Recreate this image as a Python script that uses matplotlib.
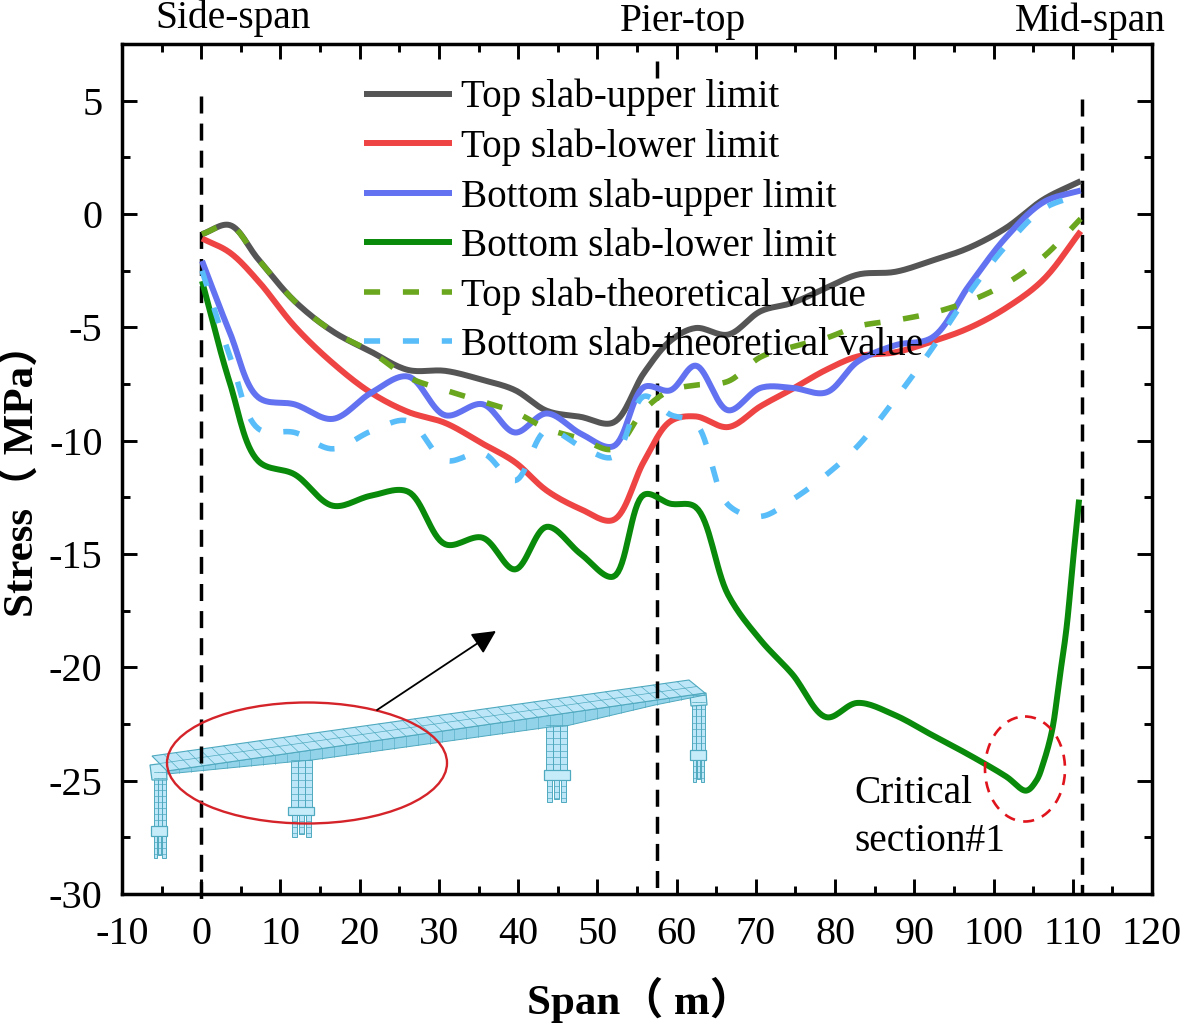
import numpy as np
import matplotlib
matplotlib.use("Agg")
import matplotlib.pyplot as plt
from matplotlib.patches import Ellipse, Polygon, FancyArrowPatch
from matplotlib.transforms import Affine2D

SERIF = "Liberation Serif"
plt.rcParams['font.family'] = [SERIF, 'Noto Sans CJK SC', 'DejaVu Sans']

# ---- data ----
span_common = [0.1, 3.6, 7.2, 11.8, 16.6, 21.4, 26.1, 30.8, 35.5, 39.6, 43.6, 47.9, 52.0, 55.9,
               59.2, 62.4, 66.5, 70.6, 74.6, 78.9, 82.9, 87.6, 92.3, 96.9, 101.6, 106.3, 111.0]
top_upper = [-0.89, -0.49, -2.0, -3.85, -5.18, -6.07, -6.88, -6.92, -7.32, -7.77, -8.68, -8.95, -9.2, -7.0,
             -5.6, -5.03, -5.32, -4.29, -3.92, -3.26, -2.67, -2.55, -2.05, -1.49, -0.61, 0.64, 1.45]
top_lower = [-1.08, -1.7, -2.96, -4.96, -6.58, -7.88, -8.73, -9.22, -10.13, -10.95, -12.2, -13.02, -13.5, -10.9,
             -9.15, -8.93, -9.4, -8.48, -7.72, -6.87, -6.28, -6.1, -5.62, -5.03, -4.14, -2.89, -0.76]
bottom_upper = [-2.07, -5.22, -8.09, -8.40, -9.04, -7.9, -7.17, -8.88, -8.39, -9.64, -8.8, -9.69, -10.25, -7.63,
                -7.78, -6.69, -8.66, -7.67, -7.67, -7.87, -6.5, -5.79, -5.44, -3.16, -1.02, 0.52, 1.04]
top_theory = [-0.89, -0.5, -2.0, -3.85, -5.18, -6.07, -7.2, -7.77, -8.28, -8.74, -9.47, -9.91, -10.37, -8.63,
              -7.78, -7.55, -7.38, -6.31, -5.86, -5.47, -4.95, -4.69, -4.36, -3.85, -3.07, -1.89, -0.21]
bottom_theory = [-2.5, -6.26, -9.47, -9.64, -10.36, -9.59, -9.13, -10.87, -10.55, -11.76, -9.54, -10.25, -10.72, -8.04,
                 -8.85, -9.22, -12.83, -13.34, -12.6, -11.5, -10.22, -8.16, -5.91, -3.51, -1.39, 0.23, 0.86]
span_bottom_lower = [0.1, 3.6, 7.2, 11.8, 16.6, 21.4, 26.1, 30.8, 35.5, 39.6, 43.6, 47.9, 52.0, 55.9,
                     59.2, 62.4, 66.5, 70.6, 74.6, 78.9, 82.8, 87.5, 92.2, 96.9, 101.6, 104.1, 105.4, 106.3,
                     107.4, 108.3, 109.2, 110.0, 110.8]
bottom_lower = [-2.96, -7.44, -10.9, -11.49, -12.87, -12.43, -12.25, -14.57, -14.28, -15.68, -13.8, -15.0, -16.0, -12.38,
                -12.78, -12.93, -16.8, -18.8, -20.3, -22.2, -21.57, -22.1, -22.98, -23.86, -24.82, -25.44, -25.0, -24.2,
                -22.76, -20.55, -18.3, -15.4, -12.6]

series_labels = ["Top slab-upper limit", "Top slab-lower limit", "Bottom slab-upper limit",
                 "Bottom slab-lower limit", "Top slab-theoretical value", "Bottom slab-theoretical value"]
series_colors = ["#555555", "#ee4444", "#6272f0", "#0a8a0a", "#6aa61e", "#58bdf8"]
x_ticks = list(range(-10, 121, 10))
y_ticks = list(range(-30, 6, 5))
section_lines = [0, 57.5, 111.2]


def smooth(xs, ys, steps=16):
    """Centripetal cubic rendering of the line between the read points."""
    p = np.column_stack([np.asarray(xs, float) * 7.93, np.asarray(ys, float) * 22.65])
    d = np.sqrt(np.hypot(*np.diff(p, axis=0).T))
    m = np.zeros_like(p)
    for i in range(1, len(p) - 1):
        h0, h1 = d[i - 1], d[i]
        m[i] = (h1 ** 2 * (p[i] - p[i - 1]) + h0 ** 2 * (p[i + 1] - p[i])) / (h0 * h1 * (h0 + h1))
    m[0] = (p[1] - p[0]) / d[0]
    m[-1] = (p[-1] - p[-2]) / d[-1]
    out = []
    u = np.linspace(0, 1, steps, endpoint=False)[:, None]
    for i in range(len(p) - 1):
        h = d[i]
        out.append((2 * u ** 3 - 3 * u ** 2 + 1) * p[i] + (u ** 3 - 2 * u ** 2 + u) * h * m[i]
                   + (-2 * u ** 3 + 3 * u ** 2) * p[i + 1] + (u ** 3 - u ** 2) * h * m[i + 1])
    out.append(p[-1][None, :])
    out = np.vstack(out)
    return out[:, 0] / 7.93, out[:, 1] / 22.65


W, H = 1181, 1024
fig = plt.figure(figsize=(W / 100, H / 100), dpi=100)
L, R, T, B = 122, 1152, 44, 894
ax = fig.add_axes([L / W, 1 - B / H, (R - L) / W, (B - T) / H])
ax.set_xlim(-10, 120)
ax.set_ylim(-30, 7.5)
px = Affine2D().scale(1 / W, -1 / H).translate(0, 1) + fig.transFigure

for s in ax.spines.values():
    s.set_linewidth(2.5)
ax.set_xticks(x_ticks)
ax.set_yticks(y_ticks)
ax.set_xticks(np.arange(-5, 120, 10), minor=True)
ax.set_yticks(np.arange(-27.5, 7.5, 5), minor=True)
ax.tick_params(axis='both', which='major', direction='in', length=11, width=2.1, top=True, right=True, labelsize=29)
ax.tick_params(axis='x', which='major', pad=16)
ax.tick_params(axis='y', which='major', pad=14)
ax.tick_params(which='minor', direction='in', length=5.8, width=2.1, top=True, right=True)
ax.set_xticklabels([str(v) for v in x_ticks])
ax.set_yticklabels([str(v) for v in y_ticks])


def py2val(py):
    return (214.5 - py) / 22.65


# section lines: the pier-top one is hidden behind the legend block, as in the reference
dash_style = (0, (4.9, 2.9))
for xv, spans in zip(section_lines, [[(97, 900)], [(62, 80), (383, 894)], [(100, 894)]]):
    for a, b in spans:
        ax.plot([xv, xv], [py2val(a), py2val(b)], color='black', lw=2.5, ls=dash_style, dash_capstyle='butt',
                zorder=2, clip_on=False)

solid = [(span_common, top_upper), (span_common, top_lower), (span_common, bottom_upper), (span_bottom_lower, bottom_lower)]
for (xs, ys), lab, col in zip(solid, series_labels[:4], series_colors[:4]):
    sx, sy = smooth(xs, ys)
    ax.plot(sx, sy, color=col, lw=4.3, label=lab, zorder=3, solid_capstyle='butt')
for ys, lab, col in zip([top_theory, bottom_theory], series_labels[4:], series_colors[4:]):
    sx, sy = smooth(span_common, ys)
    ax.plot(sx, sy, color=col, lw=4.0, ls=(0, (2.9, 4.1)), dash_capstyle='butt', label=lab, zorder=4)

leg = ax.legend(loc='upper left', bbox_to_anchor=(364 / W, 1 - 79 / H), bbox_transform=fig.transFigure,
                frameon=False, fontsize=28.2, handlelength=2.25, handletextpad=0.22, labelspacing=0.31,
                borderpad=0, borderaxespad=0)
leg.set_zorder(6)

# axis titles
fig.text(640 / W, 1 - 1000 / H, "Span（ m）", ha='center', va='center', fontsize=31, fontweight='bold',
         family=[SERIF, 'Noto Sans CJK SC'])
fig.text(21 / W, 1 - 470 / H, "Stress（ MPa）", ha='center', va='center', rotation=90, fontsize=31, fontweight='bold',
         family=[SERIF, 'Noto Sans CJK SC'])

# top region labels
for txt, cx, cy in [("Side-span", 233, 18), ("Pier-top", 683, 22), ("Mid-span", 1090, 21)]:
    fig.text(cx / W, 1 - cy / H, txt, ha='center', va='center', fontsize=28.4)
fig.text(854 / W, 1 - 803 / H, "Critical", ha='left', va='baseline', fontsize=28.4)
fig.text(854 / W, 1 - 851 / H, "section#1", ha='left', va='baseline', fontsize=28.4)

# bridge model sketch
DECK = '#bde7f8'
EDGE = '#4fa9bf'
SIDE = '#93d3ea'


def poly(points, fc=DECK, ec=EDGE, lw=0.6, z=1.5):
    ax.add_patch(Polygon(points, closed=True, fc=fc, ec=ec, lw=lw, transform=px, zorder=z, clip_on=False))


def lines(xs, ys, color=EDGE, lw=0.5, z=1.6):
    ax.plot(xs, ys, color=color, lw=lw, transform=px, zorder=z, clip_on=False)


def pier(x0, x1, ytop, ycap, ycap2, ybot, capx0, capx1, nrow):
    n = 3
    xsp = np.linspace(x0, x1, n + 1)
    wid = (x1 - x0) / n
    for i in range(n):
        poly([(xsp[i], ytop), (xsp[i + 1], ytop), (xsp[i + 1], ycap), (xsp[i], ycap)], fc=DECK, lw=0.7)
        for yy in np.linspace(ytop, ycap, nrow):
            lines([xsp[i], xsp[i + 1]], [yy, yy])
    poly([(capx0, ycap), (capx1, ycap), (capx1, ycap2), (capx0, ycap2)], fc='#c6ecfa', lw=0.9)
    for i in range(n):
        xa = xsp[i] + wid * 0.12
        xb = xsp[i + 1] - wid * 0.12
        poly([(xa, ycap2), (xb, ycap2), (xb, ybot - (i % 2) * 3), (xa, ybot - (i % 2) * 3)], fc=DECK, lw=0.7)
        for yy in np.linspace(ycap2, ybot - 4, 4):
            lines([xa, xb], [yy, yy])


pier(153.5, 166, 772, 826, 836, 858, 151, 167, 10)
pier(291, 312, 760, 807, 815, 837, 288, 314, 8)
pier(546, 567, 725, 770, 780, 802, 544, 570, 8)
pier(692, 705, 695, 750, 760, 782, 690, 706, 9)
poly([(150, 765), (166, 763), (167, 780), (152, 780)], fc='#c6ecfa', lw=0.9)
poly([(690, 695), (706, 693), (707, 705), (691, 706)], fc='#c6ecfa', lw=0.9)

top_far = np.array([[152, 756], [689, 680]], float)
top_near = np.array([[167, 771], [705, 693]], float)
under_x = [167, 290, 312, 550, 566, 655, 705]
under_y = [774, 762, 760, 727, 726, 705, 695]
poly([tuple(top_near[0]), tuple(top_near[1])] + list(zip(under_x, under_y))[::-1], fc=SIDE, lw=0.7)
poly([tuple(top_far[0]), tuple(top_far[1]), tuple(top_near[1]), tuple(top_near[0])], fc=DECK, lw=0.8)
for f in np.linspace(0, 1, 46)[1:-1]:
    a = top_far[0] + f * (top_far[1] - top_far[0])
    b = top_near[0] + f * (top_near[1] - top_near[0])
    lines([a[0], b[0]], [a[1], b[1]], lw=0.45)
    lines([b[0], b[0]], [b[1], np.interp(b[0], under_x, under_y)], lw=0.4)
mid0 = (top_far[0] + top_near[0]) / 2
mid1 = (top_far[1] + top_near[1]) / 2
lines([mid0[0], mid1[0]], [mid0[1], mid1[1]], lw=0.5)

# annotations: red ellipses and arrow
ax.add_patch(Ellipse((307, 763), 280, 121, fc='none', ec='#d5232a', lw=1.7, transform=px, zorder=5, clip_on=False))
ax.add_patch(Ellipse((1025, 769), 80, 105, fc='none', ec='#e0141c', lw=1.9, ls=(0, (4.2, 3.2)), transform=px, zorder=5))
ax.add_patch(FancyArrowPatch((377, 710), (496, 631), arrowstyle='-|>', mutation_scale=36, lw=1.3, color='black',
                             shrinkA=0, shrinkB=0, transform=px, zorder=5))

fig.savefig("out.png", dpi=100)
